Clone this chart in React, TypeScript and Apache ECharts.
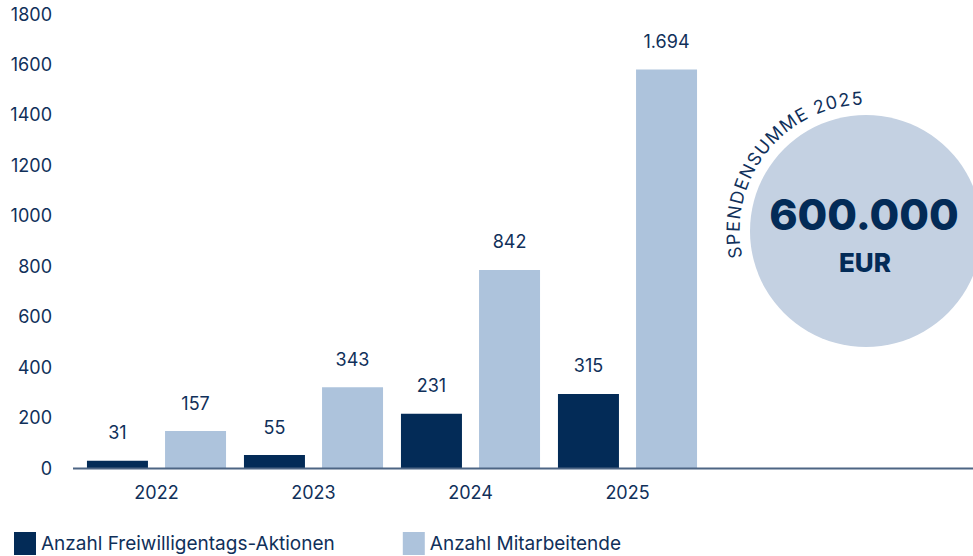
import React, { useEffect, useRef } from "react";
import * as echarts from "echarts";

const categories = ["2022", "2023", "2024", "2025"];
const aktionen = [31, 55, 231, 315];
const mitarbeitende = [157, 343, 842, 1694];
const seriesNames = ["Anzahl Freiwilligentags-Aktionen", "Anzahl Mitarbeitende"];
const yMin = 0;
const yMax = 1800;
const yInterval = 200;
// the bars in the reference are drawn on a slightly larger scale than the tick labels
const barScaleMax = 1930;
const donationTitle = "SPENDENSUMME 2025";
const donationAmount = "600.000";
const donationUnit = "EUR";

const NAVY = "#032b57";
const LIGHT = "#adc3dc";
const TEXT = "#10305a";
const CIRCLE = "#c4d1e2";
const FONT = "Inter, 'Noto Sans', sans-serif";

function fmt(v: number): string {
  return String(v).replace(/\B(?=(\d{3})+(?!\d))/g, ".");
}

function curvedText(text: string, cx: number, cy: number, r: number, startDeg: number, endDeg: number, fontSize: number) {
  const canvas = document.createElement("canvas");
  const ctx = canvas.getContext("2d")!;
  ctx.font = `${fontSize}px Inter`;
  const chars = text.split("");
  const widths = chars.map((c) => ctx.measureText(c).width);
  const centers: number[] = [];
  let acc = 0;
  for (let i = 0; i < chars.length; i++) {
    centers.push(acc + widths[i] / 2);
    acc += widths[i];
  }
  const baseLen = centers[centers.length - 1] - centers[0];
  const target = ((startDeg - endDeg) * Math.PI / 180) * r;
  const spacing = (target - baseLen) / (chars.length - 1);
  const els: any[] = [];
  for (let i = 0; i < chars.length; i++) {
    const d = centers[i] - centers[0] + spacing * i;
    const ang = startDeg * Math.PI / 180 - d / r;
    const x = cx + r * Math.cos(ang);
    const y = cy - r * Math.sin(ang);
    els.push({
      type: "text",
      x,
      y,
      rotation: ang - Math.PI / 2,
      style: {
        text: chars[i],
        fill: TEXT,
        font: `${fontSize}px ${FONT}`,
        align: "center",
        verticalAlign: "middle",
      },
    });
  }
  return els;
}

export default function App() {
  const ref = useRef<HTMLDivElement>(null);
  useEffect(() => {
    if (!ref.current) return;
    const chart = echarts.init(ref.current, null, { renderer: "svg" });
    const cx = 866;
    const cy = 231;
    const labelStyle = {
      show: true,
      position: "top",
      distance: 19,
      color: TEXT,
      fontSize: 18,
      fontFamily: FONT,
      formatter: (p: any) => fmt(p.value),
    };
    const option: any = {
      animation: false,
      backgroundColor: "#ffffff",
      grid: { left: 78, top: 14, width: 628, height: 454, containLabel: false },
      legend: {
        left: 14,
        top: 532,
        padding: 0,
        itemWidth: 22,
        itemHeight: 23,
        itemGap: 68,
        icon: "rect",
        textStyle: { color: TEXT, fontSize: 19, fontFamily: FONT },
        data: seriesNames,
      },
      xAxis: {
        type: "category",
        data: categories,
        axisLine: { show: false },
        axisTick: { show: false },
        axisLabel: { color: TEXT, fontSize: 18, fontFamily: FONT, margin: 15 },
      },
      yAxis: [
        {
          type: "value",
          min: yMin,
          max: yMax,
          interval: yInterval,
          splitLine: { show: false },
          axisLine: { show: false },
          axisTick: { show: false },
          axisLabel: {
            color: TEXT,
            fontSize: 18,
            fontFamily: FONT,
            margin: 26,
            formatter: (v: number) => String(v),
          },
        },
        { type: "value", min: 0, max: barScaleMax, show: false, splitLine: { show: false } },
      ],
      series: [
        {
          name: seriesNames[0],
          type: "bar",
          yAxisIndex: 1,
          data: aktionen,
          barWidth: 61,
          barGap: "28%",
          itemStyle: { color: NAVY },
          label: labelStyle,
        },
        {
          name: seriesNames[1],
          type: "bar",
          yAxisIndex: 1,
          data: mitarbeitende,
          barWidth: 61,
          barGap: "28%",
          itemStyle: { color: LIGHT },
          label: labelStyle,
        },
      ],
      graphic: [
        {
          type: "line",
          shape: { x1: 73, y1: 468.5, x2: 973, y2: 468.5 },
          style: { stroke: "#4d6584", lineWidth: 2 },
          z: 10,
        },
        {
          type: "circle",
          shape: { cx, cy, r: 116 },
          style: { fill: CIRCLE },
          z: 0,
        },
        {
          type: "text",
          x: cx - 2,
          y: 214,
          style: {
            text: donationAmount,
            fill: NAVY,
            font: `800 43px ${FONT}`,
            align: "center",
            verticalAlign: "middle",
          },
          z: 5,
        },
        {
          type: "text",
          x: cx - 1,
          y: 262,
          style: {
            text: donationUnit,
            fill: NAVY,
            font: `800 26px ${FONT}`,
            align: "center",
            verticalAlign: "middle",
          },
          z: 5,
        },
        ...curvedText(donationTitle, cx, cy, 133, 189.4, 93.9, 18),
      ],
    };
    chart.setOption(option);
    return () => chart.dispose();
  }, []);
  return (
    <div
      ref={ref}
      style={{ position: "fixed", left: 0, top: 0, width: 973, height: 556, background: "#fff" }}
    />
  );
}
